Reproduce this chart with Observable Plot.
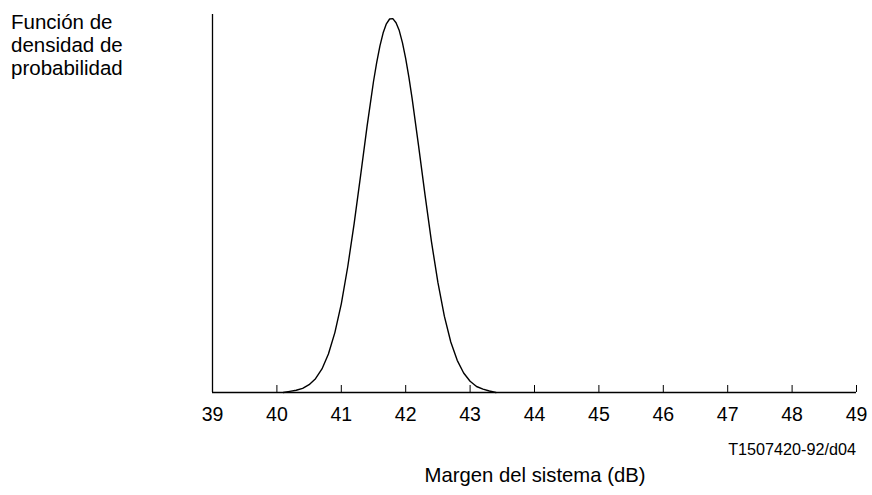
<!DOCTYPE html>
<html>
<head>
<meta charset="utf-8">
<script src="https://cdn.jsdelivr.net/npm/d3@7"></script>
<script src="https://cdn.jsdelivr.net/npm/@observablehq/plot@0.6"></script>
<style>
  html, body { margin: 0; padding: 0; background: #fff; }
  body { width: 872px; height: 495px; overflow: hidden; font-family: "Liberation Sans", Arial, sans-serif; color: #000; }
  #wrap { position: relative; width: 872px; height: 495px; }
  #wrap svg { position: absolute; left: 0; top: 0; }
  #wrap svg text { font-size: 19.5px !important; font-family: "Liberation Sans", Arial, sans-serif; }
  .lbl { position: absolute; white-space: nowrap; color: #000; }
  #ytitle { left: 11px; top: 10px; font-size: 20.5px; line-height: 23px; }
  #xtitle { left: 0; width: 1070px; text-align: center; top: 464px; font-size: 20.3px; }
  #code { right: 16px; top: 440px; font-size: 16.2px; }
</style>
</head>
<body>
<div id="wrap">
  <div class="lbl" id="ytitle">Función de<br>densidad de<br>probabilidad</div>
  <div class="lbl" id="code">T1507420-92/d04</div>
  <div class="lbl" id="xtitle">Margen del sistema (dB)</div>
</div>
<script>
// Margin values (dB)
const margin = [40.1, 40.2, 40.3, 40.4, 40.5, 40.6, 40.7, 40.8, 40.9, 41.0,
                41.1, 41.2, 41.3, 41.4, 41.5, 41.55, 41.6, 41.65, 41.7, 41.75,
                41.8, 41.85, 41.9, 41.95, 42.0, 42.05,
                42.1, 42.2, 42.3, 42.4, 42.5, 42.6, 42.7, 42.8, 42.9, 43.0,
                43.1, 43.2, 43.3, 43.4];
// Relative probability density
const density = [0.000, 0.003, 0.006, 0.011, 0.021, 0.037, 0.063, 0.103, 0.160, 0.237,
                 0.336, 0.452, 0.580, 0.711, 0.831, 0.882, 0.926, 0.961, 0.985, 0.998,
                 0.999, 0.988, 0.967, 0.934, 0.892, 0.842,
                 0.785, 0.659, 0.528, 0.403, 0.294, 0.204, 0.135, 0.086, 0.052, 0.030,
                 0.016, 0.009, 0.004, 0.000];
// X axis tick labels
const xTicks = [39, 40, 41, 42, 43, 44, 45, 46, 47, 48, 49];

const curve = margin.map((m, i) => ({margin: m, density: density[i]}));

const chart = Plot.plot({
  width: 872,
  height: 495,
  marginLeft: 212,
  marginRight: 16,
  marginTop: 14,
  marginBottom: 103,
  style: {fontFamily: "Liberation Sans, Arial, sans-serif", fontSize: "19.5px", background: "white", color: "black"},
  x: {domain: [39, 49], axis: null, label: null},
  y: {domain: [0, 1.01], axis: null, label: null},
  marks: [
    Plot.ruleX([xTicks[0]], {stroke: "black", strokeWidth: 1.3}),
    Plot.ruleY([0], {stroke: "black", strokeWidth: 1.3}),
    Plot.ruleX(xTicks, {x: d => d, y1: 0, y2: 0, insetBottom: 7, stroke: "black", strokeWidth: 1}),
    Plot.axisX(xTicks, {tickSize: 0, tickPadding: 15, fontSize: 19.5, label: null, tickFormat: d => String(d), fill: "black"}),
    Plot.line(curve, {x: "margin", y: "density", stroke: "black", strokeWidth: 1.4, curve: "linear"})
  ]
});
document.getElementById("wrap").prepend(chart);
</script>
</body>
</html>
